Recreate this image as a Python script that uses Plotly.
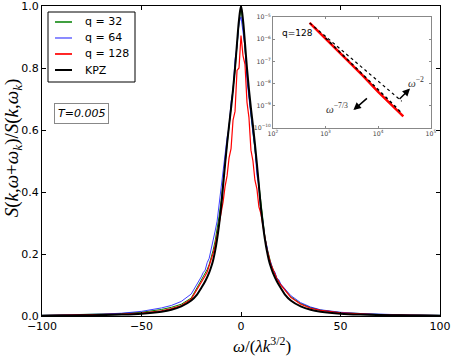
import plotly.graph_objects as go

# main panel: rescaled frequency and normalised structure factor
omega_data = [-100, -90, -80, -70, -60, -50, -40, -35, -30, -25,
              -20, -19, -18, -17, -16, -15, -14, -13, -12, -11,
              -10, -9, -8, -7, -6, -5, -4, -3, -2, -1,
              0,
              1, 2, 3, 4, 5, 6, 7, 8, 9, 10,
              11, 12, 13, 14, 15, 16, 17, 18, 19, 20,
              25, 30, 35, 40, 50, 60, 70, 80, 90, 100]

s_q32 = [0.002, 0.003, 0.004, 0.005, 0.008, 0.012, 0.021, 0.028, 0.038, 0.058,
         0.115, 0.125, 0.136, 0.150, 0.166, 0.186, 0.212, 0.242, 0.280, 0.322,
         0.372, 0.430, 0.492, 0.550, 0.612, 0.662, 0.722, 0.792, 0.872, 0.948,
         0.995,
         0.940, 0.862, 0.780, 0.712, 0.650, 0.592, 0.532, 0.472, 0.412, 0.352,
         0.302, 0.256, 0.222, 0.192, 0.170, 0.152, 0.136, 0.122, 0.111, 0.101,
         0.062, 0.040, 0.027, 0.019, 0.011, 0.007, 0.005, 0.004, 0.003, 0.002]

s_q64 = [0.002, 0.003, 0.005, 0.006, 0.009, 0.015, 0.026, 0.034, 0.047, 0.071,
         0.126, 0.140, 0.148, 0.172, 0.186, 0.214, 0.238, 0.274, 0.306, 0.362,
         0.405, 0.468, 0.512, 0.575, 0.610, 0.690, 0.728, 0.826, 0.870, 0.945,
         0.965,
         0.915, 0.868, 0.760, 0.712, 0.648, 0.590, 0.540, 0.455, 0.418, 0.338,
         0.305, 0.252, 0.226, 0.186, 0.172, 0.150, 0.142, 0.122, 0.117, 0.103,
         0.066, 0.043, 0.029, 0.020, 0.012, 0.008, 0.005, 0.004, 0.003, 0.002]

s_q128 = [0.001, 0.002, 0.003, 0.004, 0.006, 0.009, 0.017, 0.024, 0.034, 0.055,
          0.106, 0.116, 0.130, 0.142, 0.160, 0.178, 0.202, 0.228, 0.262, 0.296,
          0.336, 0.368, 0.418, 0.452, 0.510, 0.540, 0.632, 0.660, 0.792, 0.800,
          0.905,
          0.840, 0.812, 0.690, 0.640, 0.535, 0.500, 0.438, 0.410, 0.352, 0.330,
          0.290, 0.252, 0.216, 0.192, 0.166, 0.152, 0.134, 0.121, 0.110, 0.100,
          0.060, 0.038, 0.025, 0.018, 0.010, 0.006, 0.004, 0.003, 0.002, 0.0015]

omega_kpz = [-100, -90, -80, -70, -60, -50, -40, -35, -30, -25, -22, -20, -18, -16, -15,
             -14, -13, -12, -11, -10, -9, -8, -7, -6, -5, -4, -3, -2, -1, 0,
             1, 2, 3, 4, 5, 6, 7, 8, 9, 10, 11, 12, 13, 14,
             15, 16, 18, 20, 22, 25, 30, 35, 40, 50, 60, 70, 80, 90, 100]
s_kpz = [0.0012, 0.0016, 0.0022, 0.003, 0.0045, 0.0075, 0.014, 0.020, 0.031, 0.050, 0.070, 0.090, 0.112, 0.140, 0.158,
         0.180, 0.210, 0.248, 0.295, 0.350, 0.420, 0.490, 0.555, 0.615, 0.670, 0.730, 0.800, 0.880, 0.955, 1.0,
         0.955, 0.880, 0.800, 0.730, 0.670, 0.615, 0.555, 0.490, 0.420, 0.350, 0.295, 0.248, 0.210, 0.180,
         0.158, 0.140, 0.112, 0.090, 0.070, 0.050, 0.031, 0.020, 0.014, 0.0075, 0.0045, 0.003, 0.0022, 0.0016, 0.0012]

# inset: q=128 tail on log-log axes
inset_omega = [500, 1000, 2000, 5000, 10000, 20000, 30000]
inset_s_q128 = [5.5e-6, 1.1e-6, 2.1e-7, 2.4e-8, 4.2e-9, 8.5e-10, 3.3e-10]
inset_omega_kpz = [1000, 2000, 5000, 10000, 20000, 28000]
inset_s_kpz = [1.15e-6, 2.3e-7, 2.9e-8, 5.2e-9, 1.05e-9, 4.6e-10]
inset_omega_pow2 = [500, 28000]
inset_s_pow2 = [5.5e-6, 1.6e-9]

series_names = ["q = 32", "q = 64", "q = 128", "KPZ"]
series_colors = ["#008000", "#0000ff", "#ff0000", "black"]
series_widths = [1, 1, 1.2, 2]

SERIF = "Liberation Serif"
SANS = "DejaVu Sans"

fig = go.Figure()
for name, xs, ys, color, width in zip(series_names,
                                      [omega_data, omega_data, omega_data, omega_kpz],
                                      [s_q32, s_q64, s_q128, s_kpz],
                                      series_colors, series_widths):
    fig.add_trace(go.Scatter(x=xs, y=ys, name=name, mode="lines", showlegend=False,
                             opacity=0.75 if name == "q = 64" else 1,
                             line=dict(color=color, width=width,
                                       shape="spline" if name == "KPZ" else "linear")))

# inset traces
fig.add_trace(go.Scatter(x=inset_omega, y=inset_s_q128, mode="lines", showlegend=False,
                         line=dict(color="#ff0000", width=2.5), xaxis="x2", yaxis="y2"))
fig.add_trace(go.Scatter(x=inset_omega_kpz, y=inset_s_kpz, mode="lines", showlegend=False,
                         line=dict(color="black", width=1.5, dash="dot"), xaxis="x2", yaxis="y2"))
fig.add_trace(go.Scatter(x=inset_omega_pow2, y=inset_s_pow2, mode="lines", showlegend=False,
                         line=dict(color="black", width=1.2, dash="dot"), xaxis="x2", yaxis="y2"))

axis_common = dict(showline=True, linecolor="black", linewidth=1, mirror="ticks",
                   ticks="inside", ticklen=4, tickcolor="black", showgrid=False, zeroline=False,
                   automargin=False, ticklabeloverflow="allow",
                   tickfont=dict(family=SANS, size=11, color="black"))

inset_axis = dict(type="log", showline=True, linecolor="#888", linewidth=1, mirror="ticks",
                  ticks="inside", ticklen=2, tickcolor="#888", showgrid=False, zeroline=False,
                  dtick=1, exponentformat="power", automargin=False,
                  tickfont=dict(family=SANS, size=5, color="#444"))

fig.update_layout(
    width=452, height=359,
    margin=dict(l=42, r=12, t=6, b=43),
    plot_bgcolor="white", paper_bgcolor="white",
    xaxis=dict(range=[-100, 100], tickvals=[-100, -50, 0, 50, 100], **axis_common),
    yaxis=dict(range=[0, 1], dtick=0.2, tickformat=".1f", **axis_common),
    xaxis2=dict(domain=[0.580, 0.977], anchor="y2", range=[2, 5], **inset_axis),
    yaxis2=dict(domain=[0.607, 0.964], anchor="x2", range=[-10, -5], **inset_axis),
    showlegend=False,
)

# legend box drawn by hand (matplotlib-style compact rows)
fig.add_shape(type="rect", xref="paper", yref="paper", x0=0.0151, x1=0.2337, y0=0.7548, y1=0.9806,
              line=dict(color="black", width=1), fillcolor="white", layer="above")
legend_rows_y = [0.9484, 0.8968, 0.8452, 0.7935]
for name, color, width, ry in zip(series_names, series_colors, series_widths, legend_rows_y):
    fig.add_shape(type="line", xref="paper", yref="paper", x0=0.0327, x1=0.0754, y0=ry, y1=ry,
                  line=dict(color=color, width=width + (0.5 if width < 2 else 0)),
                  opacity=0.6 if name == "q = 64" else 1, layer="above")
    fig.add_annotation(xref="paper", yref="paper", x=0.103, y=ry, xanchor="left", yanchor="middle",
                       text=name, showarrow=False, font=dict(family=SANS, size=11, color="black"))

# axis titles as annotations so they sit where the reference has them
fig.add_annotation(xref="paper", yref="paper", x=0.553, y=-0.094, xanchor="center", yanchor="middle",
                   text="<i>ω</i>/(<i>λk</i><sup>3/2</sup>)", showarrow=False,
                   font=dict(family=SERIF, size=17, color="black"))
fig.add_annotation(xref="paper", yref="paper", x=-0.072, y=0.542, xanchor="center", yanchor="middle",
                   textangle=-90, showarrow=False,
                   text="<i>S</i>(<i>k</i>,<i>ω</i>+<i>ω<sub>k</sub></i>)/<i>S</i>(<i>k</i>,<i>ω<sub>k</sub></i>)",
                   font=dict(family=SERIF, size=19, color="black"))

fig.add_annotation(xref="paper", yref="paper", x=0.10, y=0.652, xanchor="center", yanchor="middle",
                   text="<i>T=0.005</i>", showarrow=False,
                   font=dict(family=SANS, size=11, color="black"),
                   bordercolor="#888", borderwidth=1, borderpad=3, bgcolor="white")

# inset labels and arrows
fig.add_annotation(xref="x2", yref="y2", x=2.46, y=-5.71, text="q=128", showarrow=False,
                   font=dict(family=SANS, size=9, color="black"))
fig.add_annotation(xref="x2", yref="y2", x=4.605, y=-8.227, ax=-12, ay=12, text="",
                   showarrow=True, arrowhead=2, arrowsize=1, arrowwidth=1.5, arrowcolor="black")
fig.add_annotation(xref="x2", yref="y2", x=4.72, y=-7.93, text="<i>ω</i><sup>−2</sup>",
                   showarrow=False, font=dict(family=SERIF, size=11, color="#333"))
fig.add_annotation(xref="x2", yref="y2", x=3.53, y=-9.2, ax=15, ay=-13, text="",
                   showarrow=True, arrowhead=2, arrowsize=1, arrowwidth=1.5, arrowcolor="black")
fig.add_annotation(xref="x2", yref="y2", x=3.22, y=-9.12, text="<i>ω</i><sup>−7/3</sup>",
                   showarrow=False, font=dict(family=SERIF, size=11, color="#333"))

# drop the page's default body margin so the figure sits at the window origin
fig.write_html("out.html", config={"displayModeBar": False},
               post_script="document.body.style.margin='0';")
